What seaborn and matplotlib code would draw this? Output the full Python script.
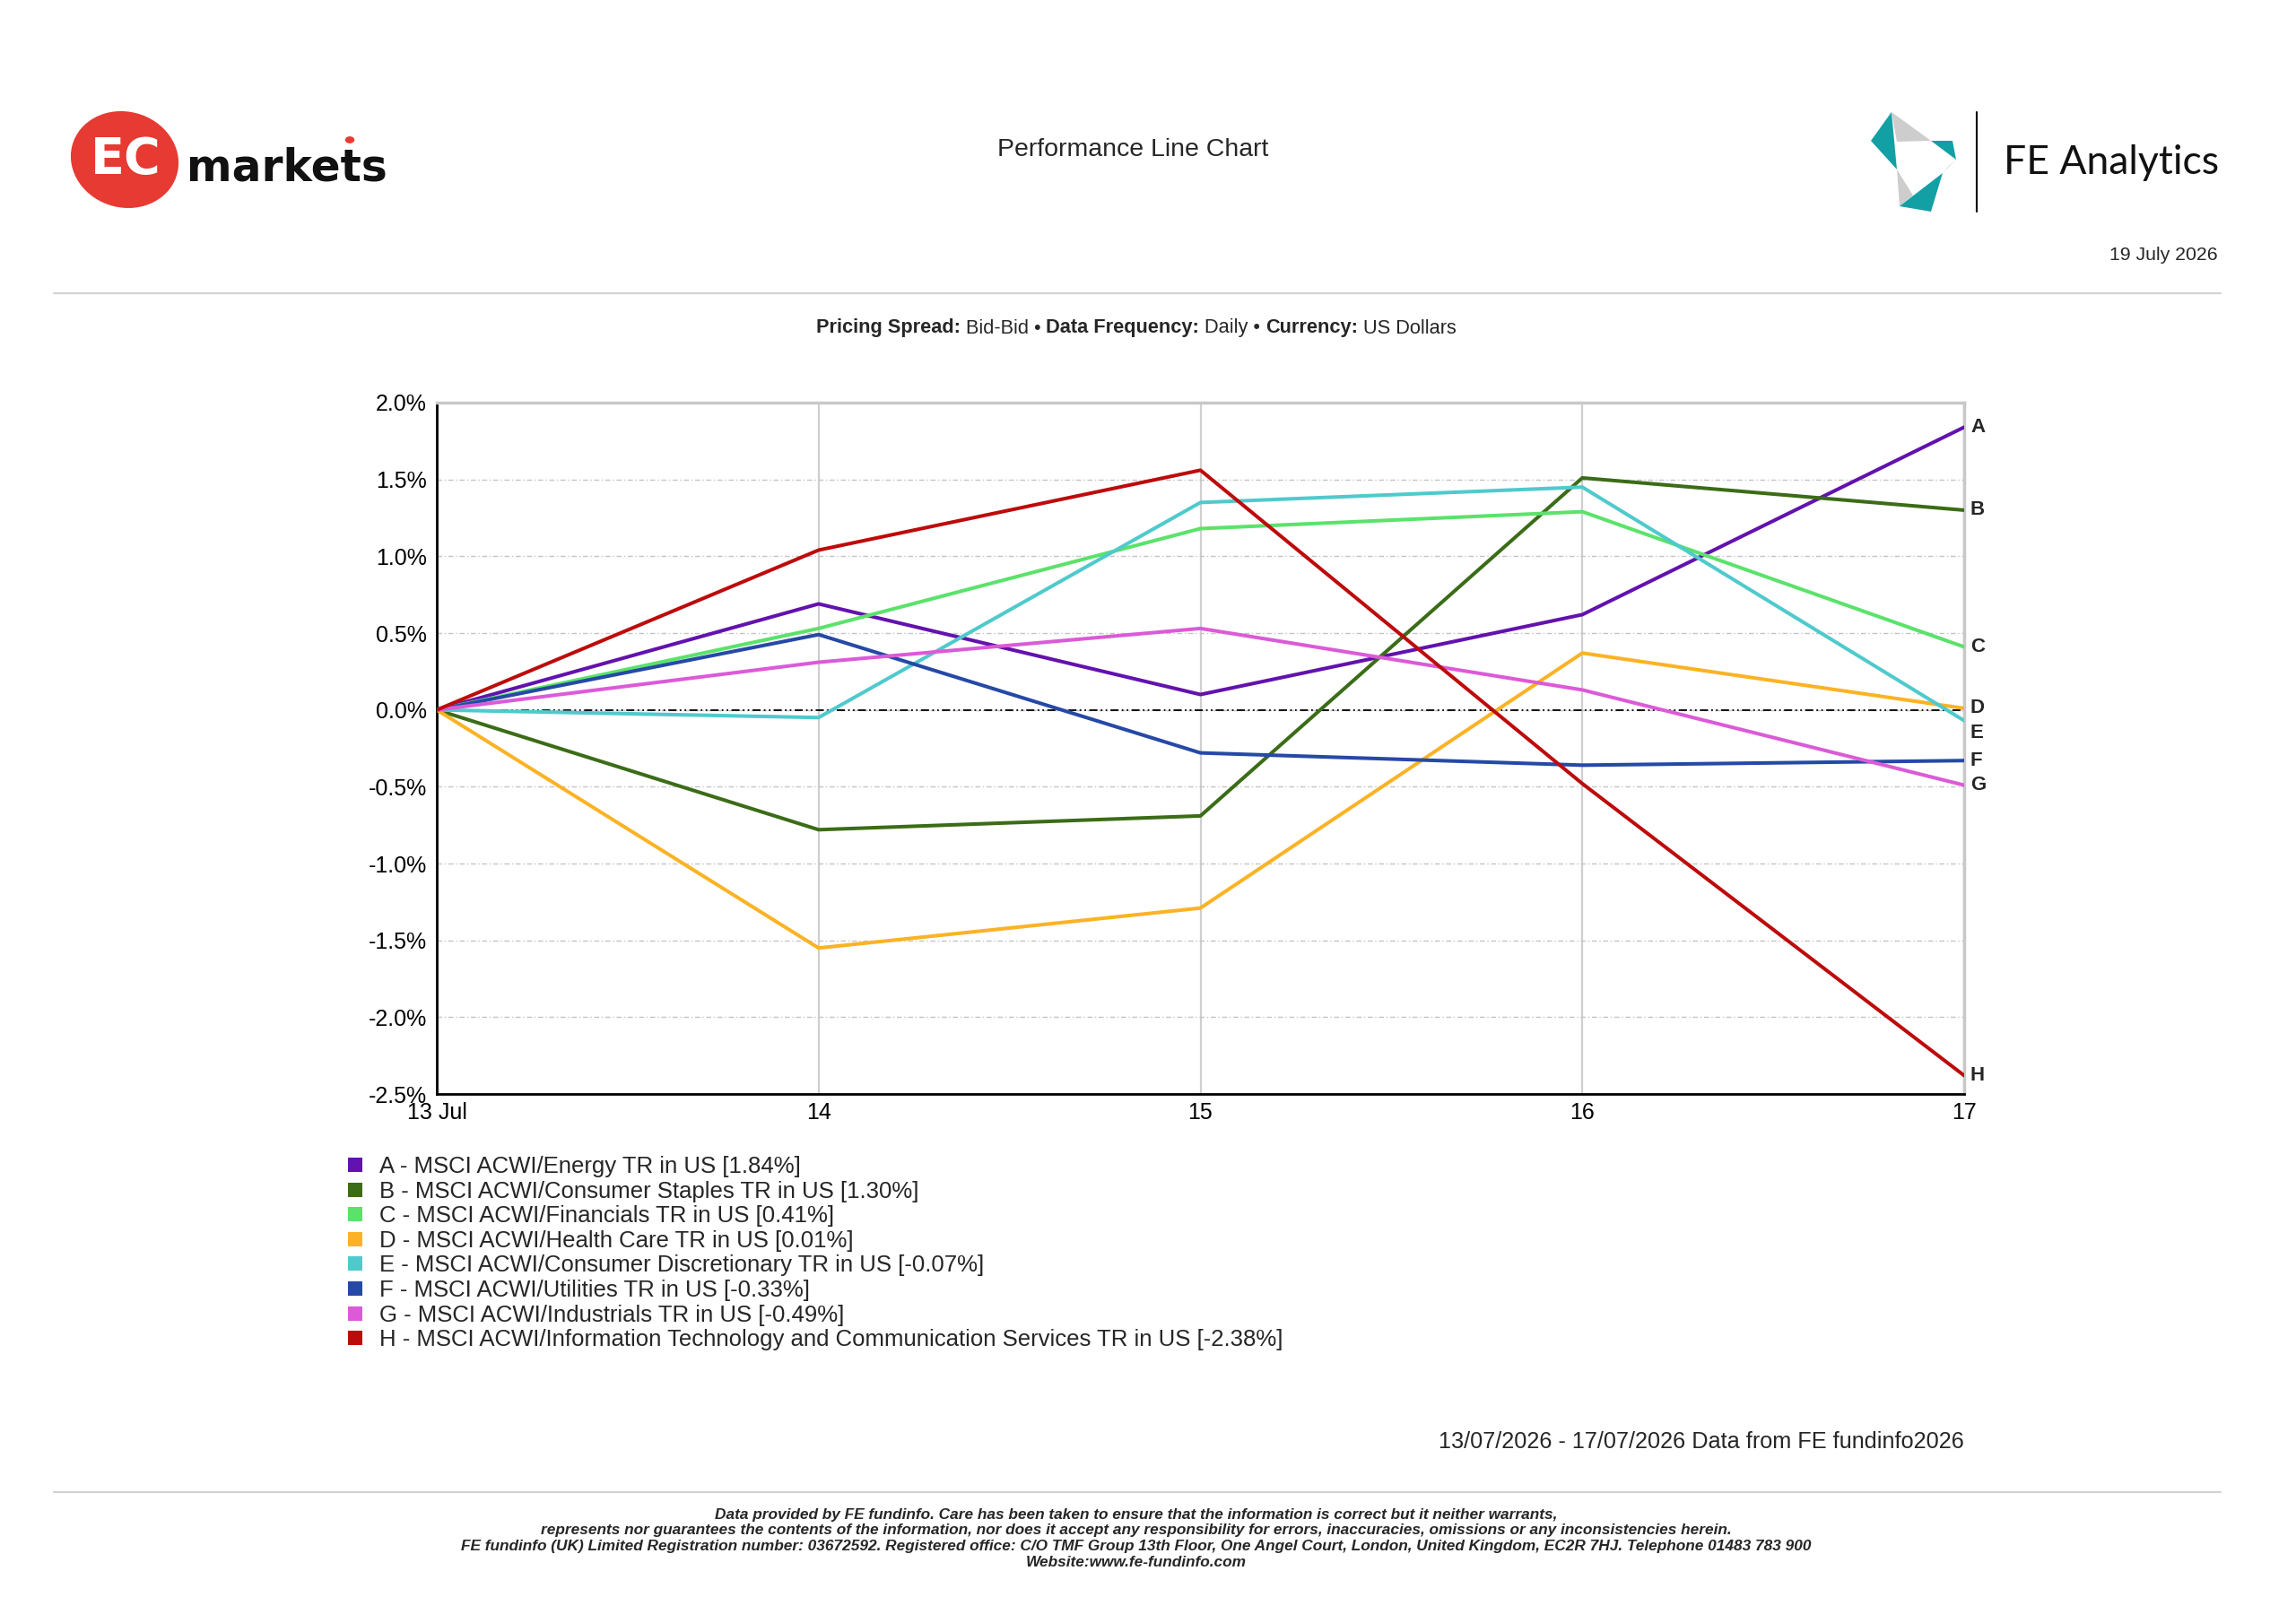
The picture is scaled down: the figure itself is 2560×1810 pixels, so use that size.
import matplotlib as mpl
mpl.use('Agg')
import matplotlib.pyplot as plt
from matplotlib.patches import Ellipse, Polygon, Circle
from matplotlib.lines import Line2D
import seaborn as sns
import pandas as pd

# ---- data ----
days = [13, 14, 15, 16, 17]
day_labels = ['13 Jul', '14', '15', '16', '17']
codes = ['A', 'B', 'C', 'D', 'E', 'F', 'G', 'H']
names = ['MSCI ACWI/Energy TR in US',
         'MSCI ACWI/Consumer Staples TR in US',
         'MSCI ACWI/Financials TR in US',
         'MSCI ACWI/Health Care TR in US',
         'MSCI ACWI/Consumer Discretionary TR in US',
         'MSCI ACWI/Utilities TR in US',
         'MSCI ACWI/Industrials TR in US',
         'MSCI ACWI/Information Technology and Communication Services TR in US']
energy = [0.0, 0.69, 0.10, 0.62, 1.84]
staples = [0.0, -0.78, -0.69, 1.51, 1.30]
financials = [0.0, 0.53, 1.18, 1.29, 0.41]
health_care = [0.0, -1.55, -1.29, 0.37, 0.01]
discretionary = [0.0, -0.05, 1.35, 1.45, -0.07]
utilities = [0.0, 0.49, -0.28, -0.36, -0.33]
industrials = [0.0, 0.31, 0.53, 0.13, -0.49]
tech_comm = [0.0, 1.04, 1.56, -0.48, -2.38]
colors = ['#6212ae', '#3b6c17', '#5be26b', '#fbb325', '#4fcacc', '#2649a6', '#dc5ad7', '#bd0b0b']

series = [energy, staples, financials, health_care, discretionary, utilities, industrials, tech_comm]
rows = []
for code, vals in zip(codes, series):
    for d, v in zip(days, vals):
        rows.append({'day': d, 'series': code, 'value': v})
df = pd.DataFrame(rows)

W, H = 2560, 1810


def fx(x):
    return x / W


def fy(y):
    return 1 - y / H


sns.set_style('white')
plt.rcParams['font.family'] = ['Liberation Sans', 'DejaVu Sans']

fig = plt.figure(figsize=(25.6, 18.1), dpi=100)
fig.patch.set_facecolor('white')

# ---- header ----
fig.add_artist(Ellipse((fx(139), fy(178)), 118 / W, 107 / H, angle=8,
                       transform=fig.transFigure, color='#e63a32'))
fig.text(fx(140), fy(178), 'EC', color='white', fontsize=40, fontweight='bold',
         ha='center', va='center', family=['DejaVu Sans'])
fig.text(fx(208), fy(202), 'markets', color='#111111', fontsize=35, fontweight='bold',
         ha='left', va='baseline', family=['DejaVu Sans'])
fig.add_artist(Circle((fx(390), fy(156)), 4.5 / W, transform=fig.transFigure, color='#e63a32'))

teal, grey = '#12a0a4', '#cdcdcd'
logo = [
    ([(2109, 125), (2086, 157), (2115, 189)], teal),
    ([(2109, 125), (2153, 157), (2115, 158)], grey),
    ([(2153, 157), (2177, 157), (2181, 178)], teal),
    ([(2181, 178), (2166, 193), (2172, 186)], grey),
    ([(2115, 189), (2133, 218), (2118, 230)], grey),
    ([(2118, 230), (2166, 193), (2153, 236)], teal),
]
for pts, c in logo:
    fig.add_artist(Polygon([(fx(a), fy(b)) for a, b in pts], closed=True,
                           transform=fig.transFigure, color=c, lw=0))
fig.add_artist(Line2D([fx(2204), fx(2204)], [fy(125), fy(236)], color='black', lw=1.5,
                      transform=fig.transFigure))
fig.text(fx(2234), fy(181), 'FE Analytics', fontsize=32, family=['Lato', 'DejaVu Sans'],
         ha='left', va='center', color='#111111')
fig.text(fx(2473), fy(285), '19 July 2026', fontsize=15.3, ha='right', va='center')
fig.text(fx(1263), fy(167), 'Performance Line Chart', fontsize=20.5, ha='center', va='center')

for yy in [327, 1664]:
    fig.add_artist(Line2D([fx(60), fx(2476)], [fy(yy), fy(yy)], color='#d3d3d3', lw=1.6,
                          transform=fig.transFigure))

# subtitle with bold labels, laid out piece by piece
pieces = [('Pricing Spread:', 'bold'), (' Bid-Bid \u2022 ', 'normal'),
          ('Data Frequency:', 'bold'), (' Daily \u2022 ', 'normal'),
          ('Currency:', 'bold'), (' US Dollars', 'normal')]
renderer = fig.canvas.get_renderer()
txts = [fig.text(0, fy(366), s, fontsize=15.7, fontweight=w, va='center', ha='left')
        for s, w in pieces]
widths = [t.get_window_extent(renderer).width for t in txts]
x0 = 1267 - sum(widths) / 2
for t, w in zip(txts, widths):
    t.set_x(fx(x0))
    x0 += w

# ---- chart ----
ax = fig.add_axes([fx(487), fy(1220), (2190 - 487) / W, (1220 - 449) / H])
sns.lineplot(data=df, x='day', y='value', hue='series', palette=colors, lw=2.9,
             legend=False, ax=ax, zorder=3)

ax.set_xlim(days[0], days[-1])
ax.set_ylim(-2.5, 2.0)
ax.set_xticks(days)
ax.set_xticklabels(day_labels)
yt = [-2.5 + 0.5 * i for i in range(10)]
ax.set_yticks(yt)
ax.set_yticklabels(['%.1f%%' % v for v in yt])
ax.set_xlabel('')
ax.set_ylabel('')
ax.tick_params(axis='both', labelsize=18, colors='black')
ax.tick_params(axis='y', length=0, pad=8)
ax.tick_params(axis='x', length=4, width=1.2, pad=2.5, direction='out')
ax.yaxis.grid(True, color='#c4c4c4', lw=1.0, ls=(0, (4, 2, 1, 2)))
ax.xaxis.grid(True, color='#cfcfcf', lw=1.6, ls='-')
ax.set_axisbelow(True)
ax.axhline(0, color='black', lw=1.3, ls=(0, (5, 2, 1, 2, 1, 2)), zorder=2)
for side in ['left', 'bottom']:
    ax.spines[side].set_color('black')
    ax.spines[side].set_linewidth(2)
for side in ['top', 'right']:
    ax.spines[side].set_color('#c8c8c8')
    ax.spines[side].set_linewidth(2.5)

# end-of-line letters, nudged apart where they would collide
finals = [s[-1] for s in series]
order = sorted(range(len(codes)), key=lambda i: -finals[i])
prev = None
for i in order:
    pos = finals[i] if prev is None else min(finals[i], prev - 0.16)
    prev = pos
    ax.annotate(codes[i], xy=(days[-1], pos), xytext=(5, 0), textcoords='offset points',
                fontsize=16, fontweight='bold', va='center', ha='left',
                annotation_clip=False)

handles = [Line2D([], [], marker='s', ls='none', markersize=11, color=c,
                  markeredgewidth=0) for c in colors]
labels = ['%s - %s [%.2f%%]' % (c, n, s[-1]) for c, n, s in zip(codes, names, series)]
fig.legend(handles, labels, loc='upper left', bbox_to_anchor=(fx(383), fy(1289)),
           frameon=False, fontsize=18.5, handlelength=1.0, handletextpad=0.55,
           labelspacing=0.14, borderpad=0, borderaxespad=0)

fig.text(fx(2190), fy(1608), '13/07/2026 - 17/07/2026 Data from FE fundinfo2026',
         fontsize=18.2, ha='right', va='center')

footer = ['Data provided by FE fundinfo. Care has been taken to ensure that the information is correct but it neither warrants,',
          'represents nor guarantees the contents of the information, nor does it accept any responsibility for errors, inaccuracies, omissions or any inconsistencies herein.',
          'FE fundinfo (UK) Limited Registration number: 03672592. Registered office: C/O TMF Group 13th Floor, One Angel Court, London, United Kingdom, EC2R 7HJ. Telephone 01483 783 900',
          'Website:www.fe-fundinfo.com']
for k, line in enumerate(footer):
    fig.text(fx(1267), fy(1689 + 17.7 * k), line, fontsize=12.4, fontweight='bold',
             style='italic', ha='center', va='center')

fig.savefig('out.png', dpi=100, facecolor='white')
